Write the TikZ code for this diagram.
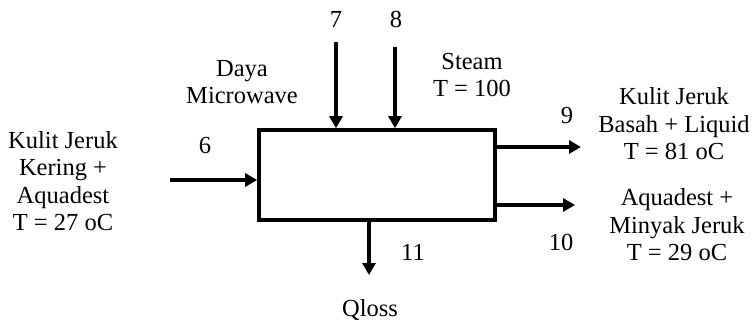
\documentclass[tikz,border=0pt]{standalone}
\usepackage{fontspec}
\setmainfont{Liberation Serif}
\usetikzlibrary{arrows.meta}
\begin{document}
\begin{tikzpicture}[x=1pt,y=-1pt,
  lbl/.style={font=\fontsize{24.5}{27.5}\selectfont, align=center, inner sep=0pt},
  flow/.style={line width=3.2pt, -{Triangle[length=12pt,width=13pt]}}]
\useasboundingbox (0,0) rectangle (755,322);
\node[draw, line width=3.6pt, minimum width=236pt, minimum height=90pt, inner sep=0pt] (box) at (377,175) {};
% inputs
\coordinate (s6) at (170,180);
\coordinate (s7) at (336,42);
\coordinate (s8) at (395,47);
\coordinate (e9) at (581,147);
\coordinate (e10) at (575,205);
\coordinate (e11) at (369,275);
\draw[flow] (s6) -- (s6 -| box.west);
\draw[flow] (s7) -- (s7 |- box.north);
\draw[flow] (s8) -- (s8 |- box.north);
\draw[flow] (e9 -| box.east) -- (e9);
\draw[flow] (e10 -| box.east) -- (e10);
\draw[flow] (e11 |- box.south) -- (e11);
% numbers
\node[lbl] (n6) at (205,146) {6};
\node[lbl] (n7) at (336,19) {7};
\node[lbl] (n8) at (396,19) {8};
\node[lbl] (n9) at (567,116) {9};
\node[lbl] (n10) at (561,242) {10};
\node[lbl] (n11) at (413,252) {11};
% texts
\node[lbl] (tin) at (63,181) {Kulit Jeruk\\Kering +\\Aquadest\\T = 27 oC};
\node[lbl] (tmw) at (242,82) {Daya\\Microwave};
\node[lbl] (tst) at (472,75) {Steam\\T = 100};
\node[lbl] (t9) at (674,124) {Kulit Jeruk\\Basah + Liquid\\T = 81 oC};
\node[lbl] (t10) at (677,225) {Aquadest +\\Minyak Jeruk\\T = 29 oC};
\node[lbl] (tq) at (370,310) {Qloss};
\end{tikzpicture}
\end{document}
